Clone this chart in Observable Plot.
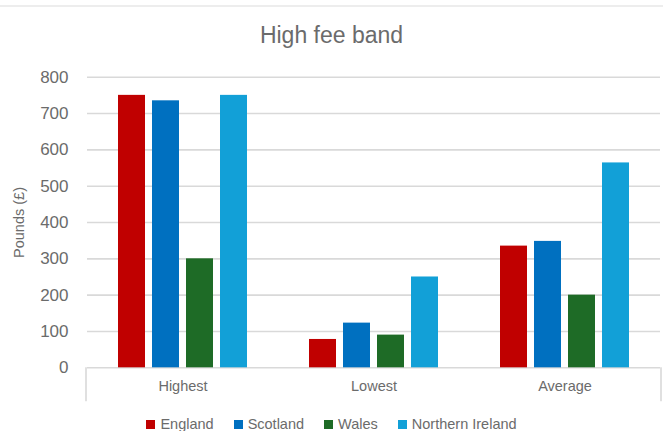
<!DOCTYPE html>
<html>
<head>
<meta charset="utf-8">
<script src="https://cdn.jsdelivr.net/npm/d3@7"></script>
<script src="https://cdn.jsdelivr.net/npm/@observablehq/plot@0.6"></script>
<style>
  body { margin: 0; background: #fff; font-family: "Liberation Sans", Arial, sans-serif; }
  #wrap { position: relative; width: 663px; height: 431px; overflow: hidden; background: #fff; }
  #topline { position: absolute; left: 0; top: 5px; width: 663px; border-top: 2px solid #ededed; }
  #title { position: absolute; left: 0; top: 24px; width: 663px; text-align: center;
           font-size: 23px; line-height: 23px; color: #6b6b6b; }
  #chart { position: absolute; left: 0; top: 50px; }
  #legend { position: absolute; left: 0; top: 414px; width: 663px; }
  .lg-swatches { justify-content: center; min-height: 20px; height: 20px; margin: 0 !important;
                 font-family: "Liberation Sans", Arial, sans-serif; font-size: 14.5px; color: #6b6b6b; }
  .lg-swatch { margin-right: 20px !important; }
  .lg-swatch:last-child { margin-right: 0 !important; }
  .lg-swatch > svg { margin-right: 5px !important; }
</style>
</head>
<body>
<div id="wrap">
  <div id="topline"></div>
  <div id="title">High fee band</div>
  <div id="chart"></div>
  <div id="legend"></div>
</div>
<script>
// Fee bands by UK nation (pounds)
const categories = ["Highest", "Lowest", "Average"];
const countries = ["England", "Scotland", "Wales", "Northern Ireland"];
const colors = ["#c00000", "#0070c0", "#1e6b26", "#12a0d7"];
const highest = [750, 735, 300, 750];
const lowest = [78, 123, 90, 250];
const average = [335, 348, 200, 564];
const yTicks = [0, 100, 200, 300, 400, 500, 600, 700, 800];

const series = [highest, lowest, average];
const data = categories.flatMap((category, i) =>
  countries.map((country, j) => ({category, country, value: series[i][j]}))
);

const textColor = "#6b6b6b";
const gridColor = "#d9d9d9";

const chart = Plot.plot({
  width: 663,
  height: 360,
  marginTop: 26.7,
  marginBottom: 42.7,
  marginLeft: 86,
  marginRight: 2,
  style: {fontFamily: "'Liberation Sans', Arial, sans-serif", color: textColor, background: "transparent"},
  fx: {domain: categories, padding: 0},
  x: {domain: countries, paddingInner: 0.2, paddingOuter: 0.84, axis: null},
  y: {domain: [0, 800]},
  color: {domain: countries, range: colors},
  marks: [
    Plot.gridY(yTicks, {stroke: gridColor, strokeOpacity: 1, strokeWidth: 1.6}),
    Plot.barY(data, {fx: "category", x: "country", y: "value", fill: "country"}),
    Plot.axisY({ticks: yTicks, tickSize: 0, tickPadding: 19, fontSize: 17, label: null, fill: textColor}),
    Plot.axisY({ticks: [], label: "Pounds (£)", labelAnchor: "center", labelArrow: "none",
                labelOffset: 74, fontSize: 14.5, fill: textColor}),
    Plot.axisFx({anchor: "bottom", tickSize: 0, tickPadding: 13, fontSize: 14.5, label: null, fill: textColor})
  ]
});

// Outer category dividers extending below the baseline
const fxScale = chart.scale("fx");
const y0 = chart.scale("y").apply(0);
const svg = d3.select(chart);
for (const xEdge of fxScale.range) {
  svg.append("line")
    .attr("x1", xEdge).attr("x2", xEdge)
    .attr("y1", y0).attr("y2", y0 + 34)
    .attr("stroke", gridColor).attr("stroke-width", 1.6);
}

document.getElementById("chart").append(chart);

const legend = chart.legend("color", {className: "lg", swatchSize: 9});
document.getElementById("legend").append(legend);
</script>
</body>
</html>
